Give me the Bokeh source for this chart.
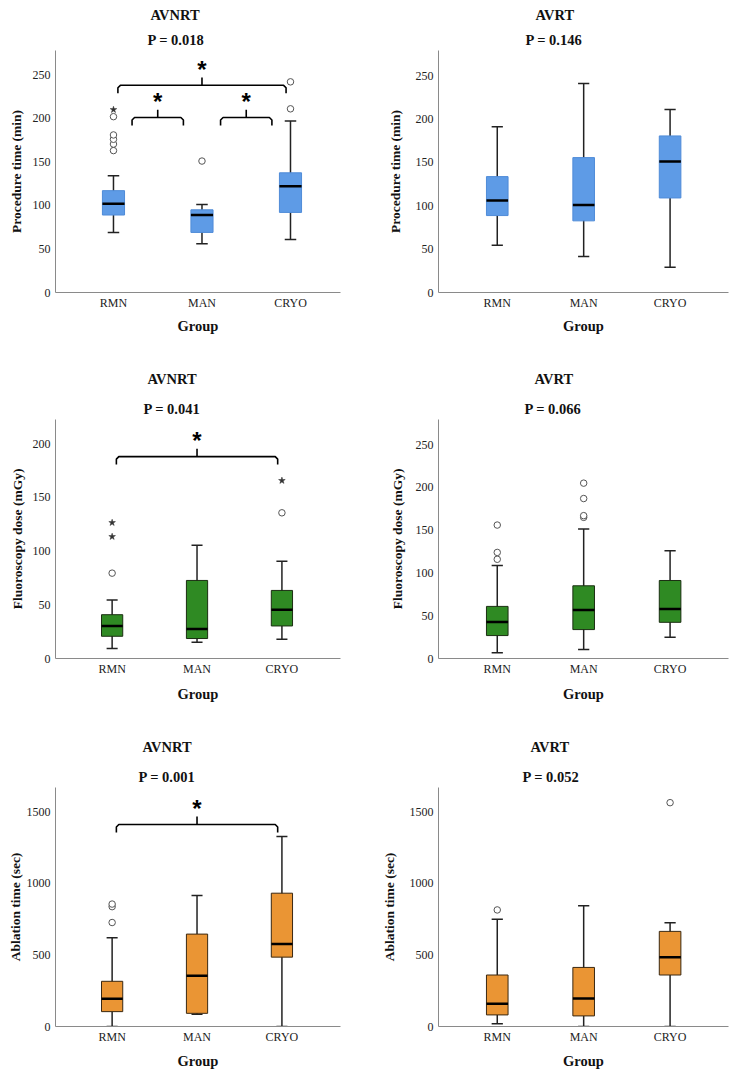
from bokeh.plotting import figure
from bokeh.models import Range1d, FixedTicker, Title
from bokeh.layouts import gridplot
from bokeh.embed import file_html
from bokeh.resources import INLINE
from bokeh.core.properties import value

# ---------------- data ----------------
groups = ["RMN", "MAN", "CRYO"]

# Procedure time (min) - AVNRT
pt_nrt_low = [69, 56, 61]
pt_nrt_q1 = [89, 69, 92]
pt_nrt_med = [102, 89, 122]
pt_nrt_q3 = [117, 95, 137.5]
pt_nrt_high = [134, 101, 197]
pt_nrt_out_grp = ["RMN", "RMN", "RMN", "RMN", "RMN", "MAN", "CRYO", "CRYO"]
pt_nrt_out_val = [163, 170.5, 176, 181, 202, 151, 211, 242]
pt_nrt_ext_grp = ["RMN"]
pt_nrt_ext_val = [210]
pt_nrt_sig_from = ["RMN", "RMN", "MAN"]
pt_nrt_sig_to = ["CRYO", "MAN", "CRYO"]
pt_nrt_sig_level = [238, 201, 201]

# Procedure time (min) - AVRT
pt_rt_low = [54.5, 41.5, 29]
pt_rt_q1 = [88.7, 82.6, 109]
pt_rt_med = [106, 101, 151]
pt_rt_q3 = [133.6, 155.5, 180.5]
pt_rt_high = [191, 241, 211]

# Fluoroscopy dose (mGy) - AVNRT
fl_nrt_low = [9.3, 15.2, 17.9]
fl_nrt_q1 = [20.7, 18.6, 30.3]
fl_nrt_med = [30.3, 27.5, 45.5]
fl_nrt_q3 = [40.8, 72.7, 63.4]
fl_nrt_high = [54.4, 105.4, 90.6]
fl_nrt_out_grp = ["RMN", "CRYO"]
fl_nrt_out_val = [79.5, 135.7]
fl_nrt_ext_grp = ["RMN", "RMN", "CRYO"]
fl_nrt_ext_val = [113.5, 126.5, 165.7]
fl_nrt_sig_from = ["RMN"]
fl_nrt_sig_to = ["CRYO"]
fl_nrt_sig_level = [188]

# Fluoroscopy dose (mGy) - AVRT
fl_rt_low = [6.6, 10.5, 24.8]
fl_rt_q1 = [26.8, 33.8, 42.3]
fl_rt_med = [42.7, 56.7, 57.8]
fl_rt_q3 = [60.9, 85, 91.2]
fl_rt_high = [108.7, 151.3, 126]
fl_rt_out_grp = ["RMN", "RMN", "RMN", "MAN", "MAN", "MAN", "MAN"]
fl_rt_out_val = [116, 124, 156, 165, 167, 187, 205]

# Ablation time (sec) - AVNRT
ab_nrt_low = [0, 85, 0]
ab_nrt_q1 = [104, 92, 485]
ab_nrt_med = [194, 355, 577]
ab_nrt_q3 = [316, 646, 932]
ab_nrt_high = [621, 916, 1329]
ab_nrt_out_grp = ["RMN", "RMN", "RMN"]
ab_nrt_out_val = [727, 838, 856]
ab_nrt_sig_from = ["RMN"]
ab_nrt_sig_to = ["CRYO"]
ab_nrt_sig_level = [1412]

# Ablation time (sec) - AVRT
ab_rt_low = [18.5, 0, 0]
ab_rt_q1 = [81, 74, 360]
ab_rt_med = [159, 196, 485]
ab_rt_q3 = [360, 413, 665]
ab_rt_high = [750, 845, 725]
ab_rt_out_grp = ["RMN", "CRYO"]
ab_rt_out_val = [815, 1565]

# ---------------- styling ----------------
SERIF = "Liberation Serif"
BLUE, BLUE_EDGE = "#5e9be6", "#4f8bd8"
GREEN, GREEN_EDGE = "#2f8a23", "#1b2e12"
ORANGE, ORANGE_EDGE = "#ea9534", "#3a2812"


def make_panel(title, ptext, ylabel, y_end, yticks, low, q1, med, q3, high,
               fill, edge, x_start, x_end, w, h, borders, toffs, tstand,
               ylab_standoff, xlab_standoff,
               out_grp=(), out_val=(), ext_grp=(), ext_val=(),
               sig_from=(), sig_to=(), sig_level=()):
    bl, br, bt, bb = borders
    p = figure(width=w, height=h, x_range=Range1d(x_start, x_end),
               y_range=Range1d(0, y_end), output_backend="svg",
               toolbar_location=None, tools="",
               min_border_left=bl, min_border_right=br,
               min_border_top=bt, min_border_bottom=bb)
    p.outline_line_color = None
    p.grid.visible = False
    p.background_fill_color = "white"
    p.border_fill_color = "white"

    p_stand, gap_stand = tstand
    p.add_layout(Title(text=ptext, align="left", offset=toffs[1],
                       text_font=SERIF, text_font_size="14.5px",
                       text_font_style="bold", text_color="#111",
                       standoff=p_stand), "above")
    if gap_stand is not None:
        # thin spacer between the two title lines
        p.add_layout(Title(text=" ", text_font_size="1px", standoff=gap_stand),
                     "above")
    p.add_layout(Title(text=title, align="left", offset=toffs[0],
                       text_font=SERIF, text_font_size="14.5px",
                       text_font_style="bold", text_color="#111",
                       standoff=0), "above")

    xs = list(range(len(groups)))
    box_w = 0.25
    cap_w = 0.13
    # whiskers
    p.segment(x0=xs, y0=low, x1=xs, y1=high, line_color="#222", line_width=1.5)
    p.segment(x0=[x - cap_w / 2 for x in xs], y0=low,
              x1=[x + cap_w / 2 for x in xs], y1=low,
              line_color="#222", line_width=1.5)
    p.segment(x0=[x - cap_w / 2 for x in xs], y0=high,
              x1=[x + cap_w / 2 for x in xs], y1=high,
              line_color="#222", line_width=1.5)
    # boxes
    p.vbar(x=xs, width=box_w, bottom=q1, top=q3, fill_color=fill,
           line_color=edge, line_width=1)
    # medians
    p.segment(x0=[x - box_w / 2 for x in xs], y0=med,
              x1=[x + box_w / 2 for x in xs], y1=med,
              line_color="black", line_width=2.5)
    # outliers
    if len(out_val):
        p.scatter(x=[groups.index(g) for g in out_grp], y=list(out_val),
                  marker="circle", size=6.5, fill_color="white",
                  line_color="#555", line_width=1)
    if len(ext_val):
        p.scatter(x=[groups.index(g) for g in ext_grp], y=list(ext_val),
                  marker="star", size=7, fill_color="#333",
                  line_color="#333", line_width=0.5)
    # significance brackets
    ppu = (h - bt - bb) / y_end
    ppx = (w - bl - br) / (x_end - x_start)
    for g1, g2, lvl in zip(sig_from, sig_to, sig_level):
        i1, i2 = groups.index(g1), groups.index(g2)
        inset = 0.05 if (i2 - i1) > 1 else 0.21
        x1, x2 = i1 + inset, i2 - inset
        xm = (x1 + x2) / 2
        drop = 8 / ppu
        rise = 8 / ppu
        ry = 2.5 / ppu
        rx = 2.5 / ppx
        p.multi_line(xs=[[x1, x1, x1 + rx, x2 - rx, x2, x2], [xm, xm]],
                     ys=[[lvl - drop, lvl - ry, lvl, lvl, lvl - ry, lvl - drop],
                         [lvl, lvl + rise]],
                     line_color="black", line_width=1.6)
        p.text(x=[xm], y=[lvl + 21 / ppu], text=["*"],
               text_font=value("Liberation Sans"), text_font_size="24px",
               text_font_style="bold", text_align="center",
               text_baseline="middle", y_offset=5, text_color="black")

    for ax in (p.xaxis[0], p.yaxis[0]):
        ax.axis_line_color = "#8a8a8a"
        ax.axis_line_width = 1
        ax.major_tick_line_color = None
        ax.minor_tick_line_color = None
        ax.major_tick_out = 0
        ax.major_tick_in = 0
        ax.minor_tick_out = 0
        ax.minor_tick_in = 0
        ax.major_label_text_font = SERIF
        ax.major_label_text_font_size = "12px"
        ax.major_label_text_color = "#222"
        ax.axis_label_text_font = SERIF
        ax.axis_label_text_font_style = "bold"
        ax.axis_label_text_color = "#111"

    p.xaxis.ticker = FixedTicker(ticks=xs)
    p.xaxis.major_label_overrides = {i: g for i, g in enumerate(groups)}
    p.xaxis.major_label_standoff = 3
    p.xaxis.axis_label = "Group"
    p.xaxis.axis_label_text_font_size = "14.5px"
    p.xaxis.axis_label_standoff = int(xlab_standoff)

    p.yaxis.ticker = FixedTicker(ticks=yticks)
    p.yaxis.major_label_standoff = 5
    p.yaxis.axis_label = ylabel
    p.yaxis.axis_label_text_font_size = "13.5px"
    p.yaxis.axis_label_standoff = int(ylab_standoff)
    return p


W1, W2 = 365, 364
H1, H2, H3 = 340, 366, 366
pt_ticks = [0, 50, 100, 150, 200, 250]
fl_ticks_nrt = [0, 50, 100, 150, 200]
ab_ticks = [0, 500, 1000, 1500]
T1 = (6, 1)   # title standoffs, top row (tight)
T2 = (6, 6)   # title standoffs, lower rows

p1 = make_panel("AVNRT", "P = 0.018", "Procedure time (min)", 278, pt_ticks,
                pt_nrt_low, pt_nrt_q1, pt_nrt_med, pt_nrt_q3, pt_nrt_high,
                BLUE, BLUE_EDGE, -0.655, 2.565, W1, H1, (55, 25, 47, 48), (95, 92), T1,
                6, 5,
                out_grp=pt_nrt_out_grp, out_val=pt_nrt_out_val,
                ext_grp=pt_nrt_ext_grp, ext_val=pt_nrt_ext_val,
                sig_from=pt_nrt_sig_from, sig_to=pt_nrt_sig_to,
                sig_level=pt_nrt_sig_level)

p2 = make_panel("AVRT", "P = 0.146", "Procedure time (min)", 279, pt_ticks,
                pt_rt_low, pt_rt_q1, pt_rt_med, pt_rt_q3, pt_rt_high,
                BLUE, BLUE_EDGE, -0.68, 2.676, W2, H1, (73, 1, 50, 48), (97, 87), T1,
                10, 5)

p3 = make_panel("AVNRT", "P = 0.041", "Fluoroscopy dose (mGy)", 222.6, fl_ticks_nrt,
                fl_nrt_low, fl_nrt_q1, fl_nrt_med, fl_nrt_q3, fl_nrt_high,
                GREEN, GREEN_EDGE, -0.667, 2.69, W1, H2, (55, 18, 78, 48), (92, 88), T2,
                5, 7,
                out_grp=fl_nrt_out_grp, out_val=fl_nrt_out_val,
                ext_grp=fl_nrt_ext_grp, ext_val=fl_nrt_ext_val,
                sig_from=fl_nrt_sig_from, sig_to=fl_nrt_sig_to,
                sig_level=fl_nrt_sig_level)

p4 = make_panel("AVRT", "P = 0.066", "Fluoroscopy dose (mGy)", 279.4, pt_ticks,
                fl_rt_low, fl_rt_q1, fl_rt_med, fl_rt_q3, fl_rt_high,
                GREEN, GREEN_EDGE, -0.68, 2.676, W2, H2, (73, 1, 79, 47), (96, 86), T2,
                8, 7,
                out_grp=fl_rt_out_grp, out_val=fl_rt_out_val)

p5 = make_panel("AVNRT", "P = 0.001", "Ablation time (sec)", 1671, ab_ticks,
                ab_nrt_low, ab_nrt_q1, ab_nrt_med, ab_nrt_q3, ab_nrt_high,
                ORANGE, ORANGE_EDGE, -0.667, 2.69, W1, H3, (55, 18, 81, 46), (87, 83), T2,
                1, 6,
                out_grp=ab_nrt_out_grp, out_val=ab_nrt_out_val,
                sig_from=ab_nrt_sig_from, sig_to=ab_nrt_sig_to,
                sig_level=ab_nrt_sig_level)

p6 = make_panel("AVRT", "P = 0.052", "Ablation time (sec)", 1671, ab_ticks,
                ab_rt_low, ab_rt_q1, ab_rt_med, ab_rt_q3, ab_rt_high,
                ORANGE, ORANGE_EDGE, -0.68, 2.676, W2, H3, (73, 1, 81, 46), (92, 84), T2,
                10, 6,
                out_grp=ab_rt_out_grp, out_val=ab_rt_out_val)

grid = gridplot([[p1, p2], [p3, p4], [p5, p6]], toolbar_location=None)

open("out.html", "w").write(file_html(grid, INLINE))
